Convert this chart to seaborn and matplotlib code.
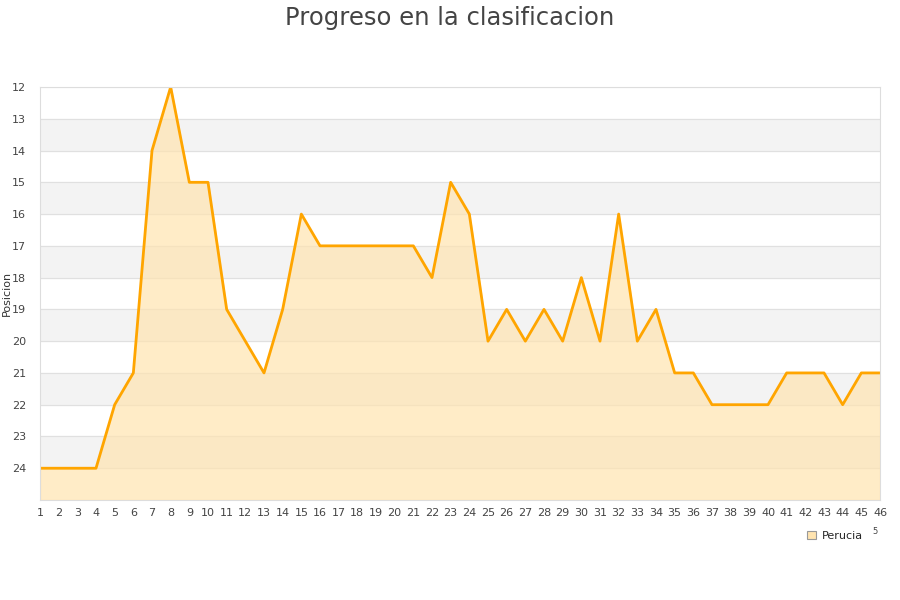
import pandas as pd
import matplotlib.pyplot as plt
import seaborn as sns
from matplotlib.patches import Patch

# Jornadas and league position
jornadas = list(range(1, 47))
posicion = [24, 24, 24, 24, 22, 21, 14, 12, 15, 15,
            19, 20, 21, 19, 16, 17, 17, 17, 17, 17,
            17, 18, 15, 16, 20, 19, 20, 19, 20, 18,
            20, 16, 20, 19, 21, 21, 22, 22, 22, 22,
            21, 21, 21, 22, 21, 21]
equipo = "Perucia"
y_ticks = list(range(12, 25))

df = pd.DataFrame({"jornada": jornadas, "posicion": posicion})

sns.set_style("white")
plt.rcParams['font.family'] = ['DejaVu Sans']

fig = plt.figure(figsize=(9, 6), dpi=100)
ax = fig.add_axes([40 / 900, 100 / 600, 840 / 900, 413 / 600])

# alternating horizontal bands
for k in range(12, 25):
    if k % 2 == 1:
        ax.axhspan(k, k + 1, color="#f3f3f3", zorder=0)
    ax.axhline(k, color="#e0e0e0", lw=0.8, zorder=0.5)

ax.fill_between(df["jornada"], df["posicion"], 25, color="#ffe4b0",
                alpha=0.7, zorder=1)
sns.lineplot(x="jornada", y="posicion", data=df, color="#ffa500",
             lw=2.0, ax=ax, zorder=2)

ax.set_xlim(1, 46)
ax.set_ylim(25, 12)
ax.set_xticks(jornadas)
ax.set_yticks(y_ticks)
ax.tick_params(axis="both", labelsize=8, colors="#444444", length=0)
ax.tick_params(axis="x", pad=6)
ax.tick_params(axis="y", pad=10)
ax.set_xlabel("")
ax.set_ylabel("Posicion", fontsize=8, color="#333333", labelpad=0)
for s in ax.spines.values():
    s.set_color("#dddddd")
    s.set_linewidth(0.8)

fig.suptitle("Progreso en la clasificacion", fontsize=17.5, color="#444444",
             y=0.99)

handle = Patch(facecolor="#ffe4b0", edgecolor="#999999", lw=0.8, label=equipo)
fig.legend(handles=[handle], loc="center", bbox_to_anchor=(835 / 900, 1 - 536 / 600),
           frameon=False, fontsize=8, handlelength=0.8, handleheight=0.8,
           handletextpad=0.6)
fig.text(875 / 900, 1 - 532 / 600, "5", fontsize=6, color="#444444",
         ha="center", va="center")

fig.savefig("out.png", dpi=100)
